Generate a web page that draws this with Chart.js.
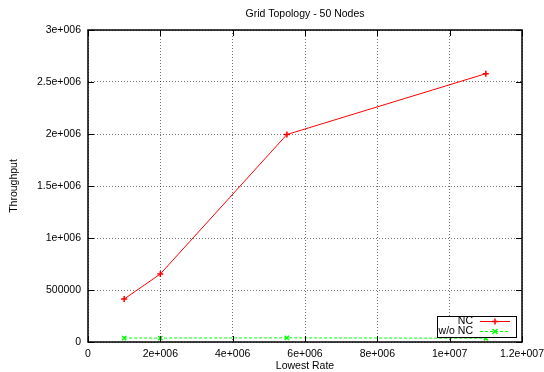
<!DOCTYPE html>
<html>
<head>
<meta charset="utf-8">
<title>Grid Topology - 50 Nodes</title>
<script src="https://cdn.jsdelivr.net/npm/chart.js@4"></script>
<style>
    html, body { margin: 0; padding: 0; background: #ffffff; }
    #wrap { width: 544px; height: 372px; position: relative; }
</style>
</head>
<body>
<div id="wrap"><canvas id="throughputChart"></canvas></div>
<script>
// données
const rates = [1000000, 2000000, 5500000, 11000000];
const ncThroughput = [413000, 654000, 1995000, 2580000];
const woNcThroughput = [38000, 38000, 40000, 36000];

const xTickLabels = ['0', '2e+006', '4e+006', '6e+006', '8e+006', '1e+007', '1.2e+007'];
const yTickLabels = ['0', '500000', '1e+006', '1.5e+006', '2e+006', '2.5e+006', '3e+006'];

const FONT = '"Liberation Sans", Arial, Helvetica, sans-serif';

// cadre, petites graduations, titre et légende façon gnuplot
const gnuplotFrame = {
    id: 'gnuplotFrame',
    afterDraw(chart) {
        const ctx = chart.ctx;
        const area = chart.chartArea;
        const xs = chart.scales.x;
        const ys = chart.scales.y;
        ctx.save();

        // graduations vers l'intérieur sur les 4 côtés
        ctx.strokeStyle = '#000';
        ctx.lineWidth = 1;
        ctx.beginPath();
        xs.ticks.forEach(t => {
            const px = Math.round(xs.getPixelForValue(t.value)) + 0.5;
            ctx.moveTo(px, area.bottom); ctx.lineTo(px, area.bottom - 6);
            ctx.moveTo(px, area.top); ctx.lineTo(px, area.top + 6);
        });
        ys.ticks.forEach(t => {
            const py = Math.round(ys.getPixelForValue(t.value)) + 0.5;
            ctx.moveTo(area.left, py); ctx.lineTo(area.left + 6, py);
            ctx.moveTo(area.right, py); ctx.lineTo(area.right - 6, py);
        });
        ctx.stroke();

        // cadre
        ctx.lineWidth = 1.5;
        ctx.strokeRect(area.left, area.top, area.right - area.left, area.bottom - area.top);

        // titre
        ctx.fillStyle = '#000';
        ctx.font = '10.5px ' + FONT;
        ctx.textAlign = 'center';
        ctx.textBaseline = 'middle';
        ctx.fillText('Grid Topology - 50 Nodes', (area.left + area.right) / 2, 14.5);

        // légende
        const boxRight = area.right - 6;
        const boxBottom = area.bottom - 5;
        const boxW = 79, rowH = 10;
        const datasets = chart.data.datasets;
        const boxH = datasets.length * rowH + 1;
        ctx.fillStyle = '#fff';
        ctx.fillRect(boxRight - boxW, boxBottom - boxH, boxW, boxH);
        ctx.lineWidth = 1;
        ctx.strokeStyle = '#000';
        ctx.strokeRect(boxRight - boxW + 0.5, boxBottom - boxH + 0.5, boxW, boxH);
        datasets.forEach((ds, i) => {
            const cy = boxBottom - boxH + 5.5 + i * rowH;
            ctx.fillStyle = '#000';
            ctx.textAlign = 'right';
            ctx.fillText(ds.label, boxRight - 43, cy);
            const x1 = boxRight - 36, x2 = boxRight - 6;
            ctx.strokeStyle = ds.borderColor;
            ctx.lineWidth = 1;
            ctx.setLineDash(ds.borderDash || []);
            ctx.beginPath();
            ctx.moveTo(x1, cy); ctx.lineTo(x2, cy);
            ctx.stroke();
            ctx.setLineDash([]);
            const mx = (x1 + x2) / 2;
            ctx.lineWidth = 1.5;
            ctx.beginPath();
            if (ds.pointStyle === 'cross') {
                ctx.moveTo(mx - 3, cy); ctx.lineTo(mx + 3, cy);
                ctx.moveTo(mx, cy - 3); ctx.lineTo(mx, cy + 3);
            } else {
                ctx.moveTo(mx - 2.5, cy - 2.5); ctx.lineTo(mx + 2.5, cy + 2.5);
                ctx.moveTo(mx - 2.5, cy + 2.5); ctx.lineTo(mx + 2.5, cy - 2.5);
            }
            ctx.stroke();
        });
        ctx.restore();
    }
};

const ctx = document.getElementById('throughputChart').getContext('2d');

new Chart(ctx, {
    type: 'scatter',
    data: {
        datasets: [{
            label: 'NC',
            data: rates.map((r, i) => ({ x: r, y: ncThroughput[i] })),
            showLine: true,
            borderColor: '#ff0000',
            backgroundColor: '#ff0000',
            borderWidth: 1,
            pointStyle: 'cross',
            pointRadius: 3,
            pointBorderWidth: 1.5
        }, {
            label: 'w/o NC',
            data: rates.map((r, i) => ({ x: r, y: woNcThroughput[i] })),
            showLine: true,
            borderColor: '#00ff00',
            backgroundColor: '#00ff00',
            borderWidth: 1,
            borderDash: [3, 2],
            pointStyle: 'crossRot',
            pointRadius: 3,
            pointBorderWidth: 1.5
        }]
    },
    options: {
        responsive: true,
        maintainAspectRatio: false,
        animation: false,
        layout: {
            padding: { left: 0, right: 22, top: 30, bottom: 0 }
        },
        plugins: {
            legend: { display: false },
            title: { display: false },
            tooltip: { enabled: false }
        },
        scales: {
            x: {
                type: 'linear',
                min: 0,
                max: 12000000,
                afterFit: function(scale) {
                    scale.height = 30;
                    scale.paddingLeft = 0;
                    scale.paddingRight = 0;
                },
                ticks: {
                    stepSize: 2000000,
                    autoSkip: false,
                    maxRotation: 0,
                    padding: 6,
                    color: '#000',
                    font: { family: FONT, size: 10.5 },
                    callback: (value, index) => xTickLabels[index]
                },
                grid: {
                    color: 'rgba(0, 0, 0, 0.55)',
                    drawTicks: false,
                    lineWidth: 1
                },
                border: { display: false, dash: [1, 2] },
                title: {
                    display: true,
                    text: 'Lowest Rate',
                    color: '#000',
                    font: { family: FONT, size: 10.5 },
                    padding: { top: 0, bottom: 0 }
                }
            },
            y: {
                type: 'linear',
                min: 0,
                max: 3000000,
                afterFit: function(scale) {
                    scale.width = 88;
                    scale.paddingTop = 0;
                    scale.paddingBottom = 0;
                },
                ticks: {
                    stepSize: 500000,
                    padding: 7,
                    color: '#000',
                    font: { family: FONT, size: 10.5 },
                    callback: (value, index) => yTickLabels[index]
                },
                grid: {
                    color: 'rgba(0, 0, 0, 0.55)',
                    drawTicks: false,
                    lineWidth: 1
                },
                border: { display: false, dash: [1, 2] },
                title: {
                    display: true,
                    text: 'Throughput',
                    color: '#000',
                    font: { family: FONT, size: 10.5 },
                    padding: { top: 8, bottom: 0 }
                }
            }
        }
    },
    plugins: [gnuplotFrame]
});
</script>
</body>
</html>
